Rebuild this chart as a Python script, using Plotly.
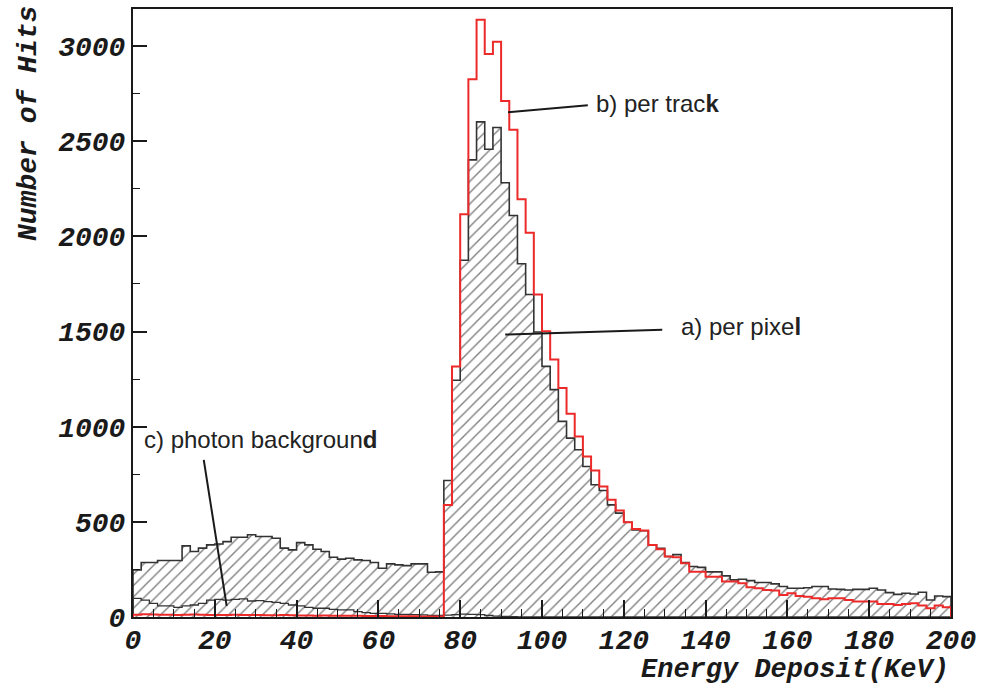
import plotly.graph_objects as go

# 2 keV bins from 0 to 200 keV
bin_edges = list(range(0, 202, 2))

# a) energy deposited per pixel
per_pixel = [
    247, 286, 286, 297, 297, 297, 374, 344, 362, 379,
    384, 396, 419, 419, 432, 423, 423, 414, 362, 353,
    391, 379, 356, 344, 314, 304, 309, 300, 297, 286,
    256, 279, 274, 270, 279, 279, 235, 237, 717, 1244,
    1875, 2402, 2602, 2458, 2572, 2282, 2110, 1856, 1695, 1498,
    1317, 1195, 1028, 940, 879, 791, 695, 665, 589, 546,
    498, 458, 453, 379, 361, 318, 328, 286, 265, 261,
    237, 237, 216, 195, 198, 191, 181, 181, 174, 160,
    151, 151, 154, 160, 160, 147, 145, 142, 145, 145,
    151, 142, 128, 119, 125, 121, 130, 89, 110, 107,
]

# b) energy deposited per track
per_track = [
    12, 14, 13, 12, 12, 11, 12, 13, 12, 11,
    10, 11, 12, 11, 10, 10, 9, 9, 10, 9,
    8, 8, 7, 8, 7, 6, 6, 6, 5, 5,
    5, 4, 4, 4, 4, 3, 3, 3, 589, 1317,
    2116, 2826, 3139, 2958, 3023, 2711, 2560, 2195, 2019, 1695,
    1502, 1353, 1204, 1068, 949, 844, 770, 686, 616, 560,
    498, 463, 455, 379, 356, 318, 314, 282, 238, 238,
    212, 212, 186, 186, 177, 156, 151, 142, 139, 116,
    125, 110, 107, 98, 93, 98, 98, 89, 81, 81,
    81, 68, 68, 63, 68, 72, 60, 46, 60, 51,
]

# c) photon background
photon_bg = [
    98, 89, 72, 58, 58, 51, 58, 63, 72, 89,
    93, 89, 93, 95, 84, 86, 81, 77, 72, 63,
    58, 51, 46, 46, 40, 37, 37, 28, 23, 19,
    19, 16, 14, 14, 12, 11, 9, 9, 10, 12,
    15, 14, 12, 8, 5, 3, 2, 1, 0, 0,
    0, 0, 0, 0, 0, 0, 0, 0, 0, 0,
    0, 0, 0, 0, 0, 0, 0, 0, 0, 0,
    0, 0, 0, 0, 0, 0, 0, 0, 0, 0,
    0, 0, 0, 0, 0, 0, 0, 0, 0, 0,
    0, 0, 0, 0, 0, 0, 0, 0, 0, 0,
]

x_ticks = list(range(0, 201, 20))
y_ticks = list(range(0, 3001, 500))


def step_outline(counts):
    """Closed histogram outline: rises from 0 at the first edge, drops to 0 at the last."""
    xs = [bin_edges[0]] + bin_edges[:-1] + [bin_edges[-1], bin_edges[-1]]
    ys = [0] + counts + [counts[-1], 0]
    return xs, ys


mono = dict(family="Liberation Mono, Courier New, monospace", size=28,
            color="#1a1a1a", weight="bold", style="italic")
mono_title = dict(mono, size=27)
sans = dict(family="Liberation Sans, Arial, sans-serif", size=24, color="#222")

fig = go.Figure()

px_x, px_y = step_outline(per_pixel)
fig.add_trace(go.Scatter(
    x=px_x, y=px_y, mode="lines", line_shape="hv",
    line=dict(color="#333333", width=1.6),
    fill="tozeroy", fillcolor="white",
    fillpattern=dict(shape="/", size=8, solidity=0.17, fgcolor="#000000"),
    hoverinfo="skip", showlegend=False,
))

bg_x, bg_y = step_outline(photon_bg)
fig.add_trace(go.Scatter(
    x=bg_x, y=bg_y, mode="lines", line_shape="hv",
    line=dict(color="#333333", width=1.3),
    hoverinfo="skip", showlegend=False,
))

tr_x, tr_y = step_outline(per_track)
fig.add_trace(go.Scatter(
    x=tr_x, y=tr_y, mode="lines", line_shape="hv",
    line=dict(color="#ec2a2a", width=2),
    hoverinfo="skip", showlegend=False,
))

# Labels with their pointer lines (data coordinates)
labels = [
    ("b) per trac<b>k</b>", 112.6, 2700, (91.7, 2653), (111.2, 2689)),
    ("a) per pixe<b>l</b>", 133.6, 1526, (91.0, 1484), (129.4, 1510)),
    ("c) photon backgroun<b>d</b>", 2.3, 932, (17.3, 826), (22.9, 58)),
]
for text, tx, ty, p0, p1 in labels:
    fig.add_annotation(x=tx, y=ty, text=text, showarrow=False,
                       xanchor="left", yanchor="middle", font=sans)
    fig.add_shape(type="line", x0=p0[0], y0=p0[1], x1=p1[0], y1=p1[1],
                  line=dict(color="#1a1a1a", width=2))

fig.add_annotation(text="Number of Hits", xref="paper", yref="paper",
                   x=-0.128, y=1.008, xanchor="center", yanchor="top",
                   textangle=-90, showarrow=False, font=mono)
fig.add_annotation(text="Energy Deposit(KeV)", xref="paper", yref="paper",
                   x=1.0, y=-0.087, xanchor="right", yanchor="middle",
                   showarrow=False, font=mono_title)

fig.update_xaxes(
    range=[0, 200], tickvals=x_ticks, ticktext=[str(v) for v in x_ticks],
    ticks="inside", ticklen=17, tickwidth=1.5, tickcolor="#1a1a1a",
    minor=dict(dtick=5, tick0=0, ticks="inside", ticklen=8,
               tickwidth=1.3, tickcolor="#1a1a1a", showgrid=False),
    showline=True, linecolor="#1a1a1a", linewidth=2, mirror=True,
    showgrid=False, zeroline=False, tickfont=mono, ticklabelstandoff=-4,
)
fig.update_yaxes(
    range=[0, 3195], tickvals=y_ticks, ticktext=[str(v) for v in y_ticks],
    ticks="inside", ticklen=14, tickwidth=1.5, tickcolor="#1a1a1a",
    minor=dict(dtick=250, tick0=0, ticks="inside", ticklen=7,
               tickwidth=1.3, tickcolor="#1a1a1a", showgrid=False),
    showline=True, linecolor="#1a1a1a", linewidth=2, mirror=True,
    showgrid=False, zeroline=False, tickfont=mono,
)

fig.update_layout(
    width=983, height=685,
    margin=dict(l=133, r=28, t=7, b=68),
    paper_bgcolor="white", plot_bgcolor="white",
    showlegend=False,
)

fig.write_html("out.html")
